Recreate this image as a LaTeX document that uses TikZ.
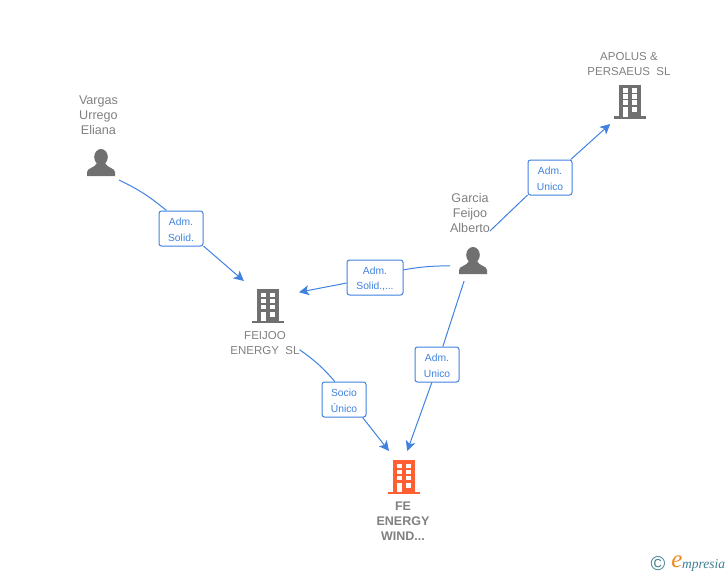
\documentclass[tikz,border=0pt]{standalone}
\usepackage{fontspec}
\setmainfont{Liberation Sans}
\newfontfamily\logofont{Liberation Serif}
\usetikzlibrary{arrows.meta}
\definecolor{linkblue}{HTML}{3F82E0}
\definecolor{namegray}{HTML}{808080}
\definecolor{icongray}{HTML}{707070}
\definecolor{firmorange}{HTML}{FF5F33}
\definecolor{logoteal}{HTML}{3F7F93}
\definecolor{logoorange}{HTML}{F08A1D}
\tikzset{
  iconspot/.style={inner sep=0pt,outer sep=0pt,minimum width=#1},
  namelabel/.style={inner sep=0pt,outer sep=0pt,align=center,text=namegray,font=\fontsize{12.6}{15}\selectfont},
  firmlabel/.style={inner sep=0pt,outer sep=0pt,align=center,text=namegray,font=\fontsize{11.5}{15}\selectfont},
  rolebox/.style={draw=linkblue,line width=1pt,rounded corners=2.5pt,fill=white,
    inner sep=0pt,minimum width=#1,minimum height=35pt,align=center,text=linkblue,font=\fontsize{10.3}{15.5}\selectfont},
  link/.style={draw=linkblue,line width=1pt},
  arrowlink/.style={link,-{Stealth[length=10pt,width=10pt,inset=2.5pt]}},
  pics/buildingicon/.style={code={
    \fill[#1] (-11,-17) rectangle (11,15);
    \fill[#1] (-16,14.5) rectangle (16,17);
    \foreach \r in {0,6,...,12} {
      \fill[white] (-7,-13.5+\r*1.0) rectangle (-2,-9+\r*1.0);
      \fill[white] (2,-13.5+\r*1.0) rectangle (7,-9+\r*1.0);
    }
    \fill[white] (2,5.5) rectangle (7,10.5);
    \fill[white] (-7,5.5) rectangle (-2,15);
  }},
  pics/personicon/.style={code={
    \fill[icongray] (0,-6) ellipse (6.8 and 8);
    \fill[icongray] (-14,13) -- (-14,9) .. controls (-14,5) and (-6,5) .. (-4,0) -- (4,0) .. controls (6,5) and (14,5) .. (14,9) -- (14,13) -- cycle;
  }},
}

\begin{document}
\begin{tikzpicture}[x=1pt,y=-1pt]
\useasboundingbox (0,0) rectangle (728,575);

% icons
\node[iconspot=36pt,minimum height=34pt] (vargas) at (101,163) {};
\node[iconspot=46pt,minimum height=40pt] (garcia) at (473,261) {};
\node[iconspot=62pt,minimum height=50pt] (feijoo) at (268,306) {};
\node[iconspot=40pt,minimum height=44pt] (apolus) at (630,102) {};
\node[iconspot=40pt,minimum height=52pt] (fewind) at (404,477) {};
\pic at (101,163) {personicon};
\pic at (473,261) {personicon};
\pic at (268,306) {buildingicon=icongray};
\pic at (630,102) {buildingicon=icongray};
\pic at (404,477) {buildingicon=firmorange};

% names
\node[namelabel] (vargastext) at (98.5,115.5) {Vargas\\Urrego\\Eliana};
\node[namelabel] (garciatext) at (470,213) {Garcia\\Feijoo\\Alberto};
\node[firmlabel] (feijootext) at (265,343) {FEIJOO\\ENERGY\ \ SL};
\node[firmlabel] (apolustext) at (629,64) {APOLUS \&\\PERSAEUS\ \ SL};
\node[firmlabel,font=\fontsize{12.5}{15}\selectfont\bfseries] (fewindtext) at (403,521) {FE\\ENERGY\\WIND...};

% roles
\node[rolebox=44pt] (solid) at (181,228.5) {\rule{0pt}{10pt}Adm.\\Solid.};
\node[rolebox=56pt] (solidmore) at (375,277.5) {\rule{0pt}{10pt}Adm.\\Solid.,...};
\node[rolebox=44pt] (unicowind) at (437,364.5) {\rule{0pt}{10pt}Adm.\\Unico};
\node[rolebox=44pt] (unicoapolus) at (550,177.5) {\rule{0pt}{10pt}Adm.\\Unico};
\node[rolebox=44pt] (socio) at (344,399.5) {\rule{0pt}{10pt}Socio\\Único};

% links
\draw[link] (vargas.south east) to[bend left=7] (solid.129);
\draw[arrowlink] (solid.-38) -- (feijoo.134);
\draw[link] (garcia.-168) to[bend right=5] (solidmore.15);
\draw[arrowlink] (solidmore.-169) -- (feijoo.24);
\draw[link] (garcia.-114) -- (unicowind.72);
\draw[arrowlink] (unicowind.-106) -- (fewind.83);
\draw[link] (garciatext.-42) -- (unicoapolus.-142);
\draw[arrowlink] (unicoapolus.41) -- (apolus.-132);
\draw[link] (feijootext.-11) to[bend left=7] (socio.117);
\draw[arrowlink] (socio.-44) -- (fewind.120);

% logo
\node[inner sep=0pt,text=logoteal,font=\fontsize{20}{20}\selectfont] (copyr) at (658,564) {©};
\node[inner sep=0pt,text=logoorange,font=\logofont\itshape\fontsize{25}{25}\selectfont] (logoe) at (677,562) {e};
\node[inner sep=0pt,anchor=west,text=logoteal,font=\logofont\itshape\fontsize{13.5}{13.5}\selectfont] (logotext) at (682,565) {mpresia};
\end{tikzpicture}
\end{document}
